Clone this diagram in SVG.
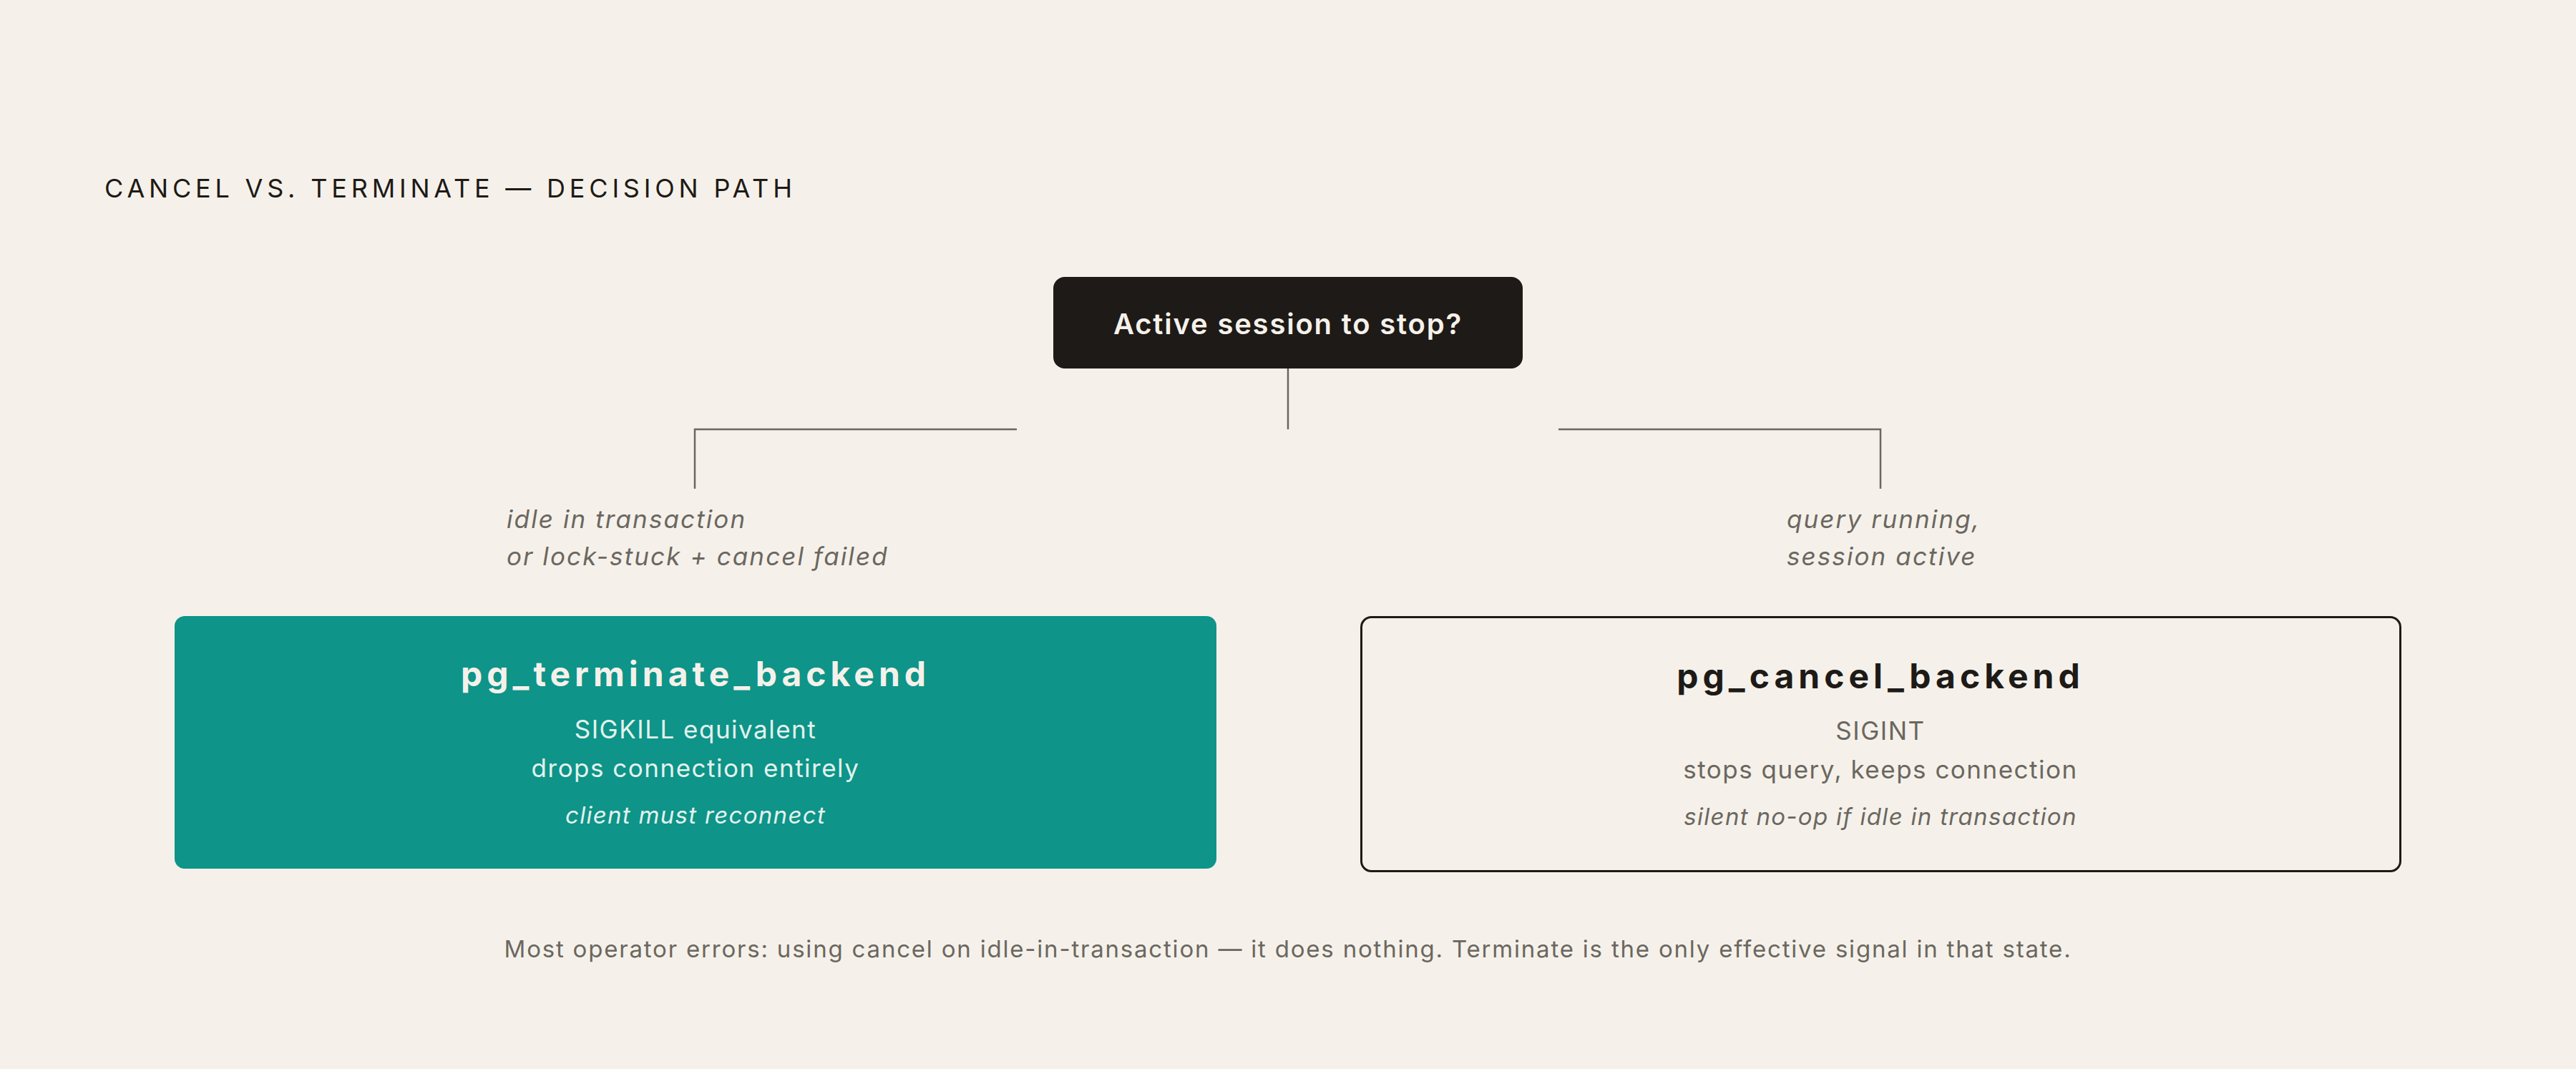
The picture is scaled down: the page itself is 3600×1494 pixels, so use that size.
<svg xmlns="http://www.w3.org/2000/svg" width="3600" height="1494" viewBox="0 0 3600 1494">
<defs>
<style>
.bg{fill:#f5f1ea}
.title{font-family:Inter,"Liberation Sans",sans-serif;font-size:36px;fill:#1e1a17;letter-spacing:5.8px}
.q{font-family:Inter,"Liberation Sans",sans-serif;font-size:40px;font-weight:600;fill:#f5f1ea;text-anchor:middle;letter-spacing:1.8px}
.lbl{font-family:Inter,"Liberation Sans",sans-serif;font-size:35px;font-style:italic;fill:#6b6760;letter-spacing:2.1px}
.h{font-family:Inter,"Liberation Sans",sans-serif;font-size:48px;font-weight:700;text-anchor:middle;letter-spacing:6px}
.b{font-family:Inter,"Liberation Sans",sans-serif;font-size:35px;text-anchor:middle;letter-spacing:1.5px}
.bi{font-family:Inter,"Liberation Sans",sans-serif;font-size:33px;font-style:italic;text-anchor:middle;letter-spacing:1.3px}
.foot{font-family:Inter,"Liberation Sans",sans-serif;font-size:33px;fill:#6b6760;text-anchor:middle;letter-spacing:1.8px}
.conn{fill:none;stroke:#6b6760;stroke-width:2.5}
</style>
</defs>
<rect class="bg" x="0" y="0" width="3600" height="1494"/>
<text class="title" x="146" y="276">CANCEL VS. TERMINATE — DECISION PATH</text>
<g id="connectors">
<path class="conn" d="M1800 515 V600"/>
<path class="conn" d="M1421 600 H971 V683"/>
<path class="conn" d="M2178 600 H2628 V683"/>
</g>
<g id="label-left">
<text class="lbl" x="708" y="738">idle in transaction</text>
<text class="lbl" x="708" y="790">or lock-stuck + cancel failed</text>
</g>
<g id="label-right">
<text class="lbl" x="2497" y="738">query running,</text>
<text class="lbl" x="2497" y="790">session active</text>
</g>
<g id="node-question">
<rect x="1472" y="387" width="656" height="128" rx="16" fill="#1e1a17"/>
<text class="q" x="1800" y="467">Active session to stop?</text>
</g>
<g id="node-terminate">
<rect x="244" y="861" width="1456" height="353" rx="14" fill="#0e9488"/>
<text class="h" x="972" y="959" fill="#f5f1ea">pg_terminate_backend</text>
<text class="b" x="972" y="1032" fill="#e4f2ee">SIGKILL equivalent</text>
<text class="b" x="972" y="1086" fill="#e4f2ee">drops connection entirely</text>
<text class="bi" x="972" y="1151" fill="#e4f2ee">client must reconnect</text>
</g>
<g id="node-cancel">
<rect x="1902.5" y="862.5" width="1452" height="355" rx="14" fill="none" stroke="#1e1a17" stroke-width="3"/>
<text class="h" x="2628" y="962" fill="#1e1a17">pg_cancel_backend</text>
<text class="b" x="2628" y="1034" fill="#6b6760">SIGINT</text>
<text class="b" x="2628" y="1088" fill="#6b6760">stops query, keeps connection</text>
<text class="bi" x="2628" y="1153" fill="#6b6760">silent no-op if idle in transaction</text>
</g>
<text class="foot" x="1800" y="1338">Most operator errors: using cancel on idle-in-transaction — it does nothing. Terminate is the only effective signal in that state.</text>
</svg>
